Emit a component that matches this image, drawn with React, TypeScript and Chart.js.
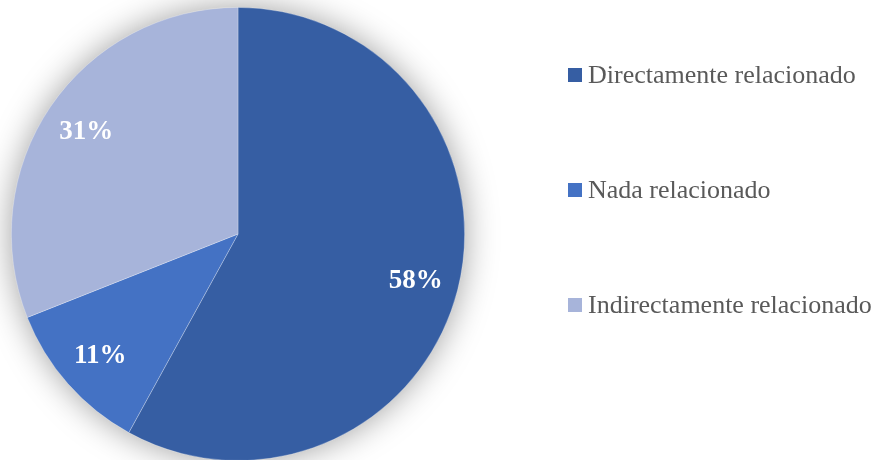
import React, { useEffect, useRef } from "react";
import { Chart, registerables } from "chart.js";

Chart.register(...registerables);

const categories = ["Directamente relacionado", "Nada relacionado", "Indirectamente relacionado"];
const values = [58, 11, 31];
const colors = ["#365EA3", "#4472C4", "#A7B4DA"];

const shadowPlugin = {
  id: "pieShadow",
  beforeDatasetsDraw(chart: any) {
    const meta = chart.getDatasetMeta(0);
    const arc = meta.data[0];
    if (!arc) return;
    const { x, y, outerRadius } = arc.getProps(["x", "y", "outerRadius"], true);
    const ctx = chart.ctx;
    ctx.save();
    ctx.shadowColor = "rgba(0,0,0,0.4)";
    ctx.shadowBlur = 34;
    ctx.shadowOffsetX = 0;
    ctx.shadowOffsetY = 0;
    ctx.fillStyle = "#ffffff";
    ctx.beginPath();
    ctx.arc(x, y, outerRadius - 1, 0, Math.PI * 2);
    ctx.fill();
    ctx.restore();
  },
};

const labelPlugin = {
  id: "pieLabels",
  afterDatasetsDraw(chart: any) {
    const meta = chart.getDatasetMeta(0);
    const ctx = chart.ctx;
    const total = values.reduce((a, b) => a + b, 0);
    ctx.save();
    ctx.fillStyle = "#ffffff";
    ctx.font = "bold 27px 'Liberation Serif', 'Times New Roman', serif";
    ctx.textAlign = "center";
    ctx.textBaseline = "middle";
    meta.data.forEach((el: any, i: number) => {
      const { x, y, startAngle, endAngle, outerRadius } = el.getProps(
        ["x", "y", "startAngle", "endAngle", "outerRadius"],
        true
      );
      const mid = (startAngle + endAngle) / 2;
      const r = outerRadius * 0.81;
      const pct = Math.round((values[i] / total) * 100) + "%";
      ctx.fillText(pct, x + Math.cos(mid) * r, y + Math.sin(mid) * r + 1);
    });
    ctx.restore();
  },
};

export default function App() {
  const ref = useRef<HTMLCanvasElement | null>(null);

  useEffect(() => {
    document.body.style.margin = "0";
    const chart = new Chart(ref.current as HTMLCanvasElement, {
      type: "pie",
      data: {
        labels: categories,
        datasets: [
          {
            data: values,
            backgroundColor: colors,
            borderColor: "rgba(255,255,255,0.35)",
            borderWidth: 0.75,
          },
        ],
      },
      options: {
        responsive: false,
        animation: false,
        layout: { padding: { left: 11, right: 416, top: 7, bottom: 0 } },
        plugins: {
          legend: { display: false },
          tooltip: { enabled: false },
        },
      },
      plugins: [shadowPlugin, labelPlugin],
    });
    return () => chart.destroy();
  }, []);

  const legendTops = [75, 190, 305];

  return (
    <div style={{ position: "relative", width: 881, height: 460, overflow: "hidden", background: "#fff" }}>
      <canvas ref={ref} width={881} height={461} style={{ position: "absolute", left: 0, top: 0 }} />
      {categories.map((c, i) => (
        <div
          key={c}
          style={{
            position: "absolute",
            left: 568,
            top: legendTops[i] - 16,
            height: 32,
            display: "flex",
            alignItems: "center",
            whiteSpace: "nowrap",
            fontFamily: "'Liberation Serif', 'Times New Roman', serif",
            fontSize: 26,
            color: "#595959",
          }}
        >
          <span style={{ display: "inline-block", width: 14, height: 14, background: colors[i], marginRight: 6 }} />
          <span>{c}</span>
        </div>
      ))}
    </div>
  );
}
